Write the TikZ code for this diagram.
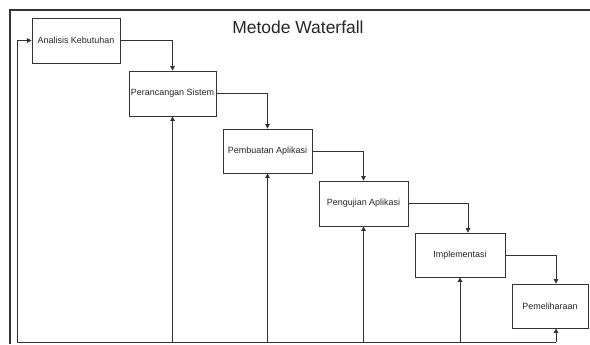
\documentclass[tikz,border=0pt]{standalone}
\usepackage{fontspec}
\setmainfont{Liberation Sans}
\usetikzlibrary{arrows.meta}

\begin{document}
\begin{tikzpicture}[x=1bp, y=-1bp,
  tahap/.style={draw=black!80, line width=0.8bp, minimum width=88bp, minimum height=45bp,
    inner sep=0pt, text=black!85, font=\fontsize{9}{11}\selectfont},
  panah/.style={draw=black!80, line width=0.8bp, -{Triangle[length=4.5bp,width=4.5bp]}},
  garis/.style={draw=black!80, line width=0.8bp}]
\useasboundingbox (0,0) rectangle (590,344);
\draw [black!80, line width=1.8bp] (10,344) -- (10,10) -- (590,10);
\node (judul) at (298,33) [anchor=base, text=black!85, font=\fontsize{17.5}{20}\selectfont] {Metode Waterfall};
\node (ana) at (76,40.5) [tahap] {Analisis Kebutuhan};
\node (per) at (172.5,93.5) [tahap, minimum width=87bp] {Perancangan Sistem};
\node (pem) at (267.5,151) [tahap, minimum width=89bp, minimum height=44bp] {Pembuatan Aplikasi};
\node (pen) at (363.5,203.5) [tahap, minimum width=89bp] {Pengujian Aplikasi};
\node (imp) at (460,255) [tahap, minimum width=90bp, minimum height=44bp] {Implementasi};
\node (pml) at (550,306) [tahap, minimum width=76bp, minimum height=44bp] {Pemeliharaan};
\coordinate (dasar) at (17,342);
\draw [panah] (ana.east) -| (per.north);
\draw [panah] (per.east) -| (pem.north);
\draw [panah] (pem.east) -| (pen.north);
\draw [panah] (pen.east) -| ([xshift=8bp]imp.north);
\draw [panah] (imp.east) -| ([xshift=6bp]pml.north);
\draw [garis] (dasar) -- ([xshift=6bp]pml.south |- dasar);
\draw [panah] (dasar) |- (ana.west);
\draw [panah] (per.south |- dasar) -- (per.south);
\draw [panah] (pem.south |- dasar) -- (pem.south);
\draw [panah] (pen.south |- dasar) -- (pen.south);
\draw [panah] (imp.south |- dasar) -- (imp.south);
\draw [panah] ([xshift=6bp]pml.south |- dasar) -- ([xshift=6bp]pml.south);
\end{tikzpicture}
\end{document}
